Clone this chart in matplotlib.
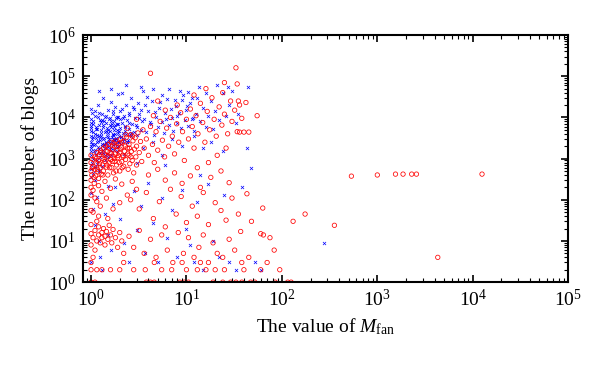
import matplotlib
matplotlib.use("Agg")
import matplotlib.pyplot as plt

# blue x markers
blue_x = [
    1.0, 1.0, 1.0, 1.0, 1.0, 1.02, 1.05, 1.05, 1.08, 1.1,
    1.1, 1.12, 1.15, 1.15, 1.18, 1.2, 1.2, 1.22, 1.25, 1.25,
    1.28, 1.3, 1.3, 1.33, 1.35, 1.35, 1.38, 1.4, 1.4, 1.42,
    1.45, 1.48, 1.5, 1.5, 1.52, 1.55, 1.58, 1.6, 1.6, 1.62,
    1.65, 1.7, 1.7, 1.72, 1.75, 1.78, 1.8, 1.8, 1.85, 1.9,
    1.9, 1.95, 2.0, 2.0, 2.05, 2.1, 2.1, 2.15, 2.2, 2.2,
    2.25, 2.3, 2.35, 2.4, 2.45, 2.5, 2.5, 2.6, 2.6, 2.7,
    2.8, 2.8, 2.9, 3.0, 3.0, 3.1, 3.2, 3.3, 3.4, 3.5,
    1.0, 1.0, 1.05, 1.1, 1.15, 1.2, 1.3, 1.0, 1.1, 1.4,
    1.0, 1.0, 1.0, 1.03, 1.07, 1.12, 1.17, 1.23, 1.27, 1.32,
    1.37, 1.43, 1.47, 1.53, 1.57, 1.63, 1.68, 1.73, 1.83, 1.88,
    1.93, 1.98, 2.03, 2.08, 2.13, 2.18, 2.28, 2.38, 2.48, 2.55,
    3.6, 3.8, 4.0, 4.2, 4.4, 4.6, 4.8, 5.0, 5.2, 5.5,
    5.8, 6.0, 6.3, 6.6, 7.0, 7.3, 7.7, 8.0, 8.4, 8.8,
    9.2, 9.6, 10, 10.5, 11, 11.5, 12, 12.5, 13, 14,
    15, 16, 17, 18, 19, 20, 22, 24, 26, 28,
    30, 33, 35, 21, 13.5, 6.5, 3.3, 2.3, 1.6, 1.2,
    4.5, 8.5, 16, 27, 1.9, 5.6, 10.5, 11.5, 3.9, 7.5,
    1.0, 1.05, 1.1, 1.2, 1.25, 1.0, 1.3, 1.15, 1.4, 1.5,
    1.6, 1.7, 1.8, 2.0, 2.2, 2.5, 2.8, 3.0, 3.3, 3.7,
    4.0, 4.5, 5.0, 5.5, 6.2, 7.0, 8.0, 9.0, 10, 11,
    12, 13, 15, 17, 19, 22, 25, 28, 33, 38,
    44, 52, 60, 43, 48, 24, 18, 275, 14, 6,
    3.5, 4.5, 5.5, 7, 9, 3.0, 2.2, 12, 15, 1.5,
    1.0, 1.0, 1.02, 1.04, 1.06, 1.09, 1.11, 1.14, 1.16, 1.19,
    1.21, 1.24, 1.26, 1.29, 1.31, 1.34, 1.36, 1.39, 1.41, 1.44,
    1.46, 1.49, 1.51, 1.54, 1.56, 1.59, 1.61, 1.64, 1.66, 1.69,
    1.71, 1.74, 1.76, 1.79, 1.81, 1.84, 1.86, 1.89, 1.91, 1.94,
    1.0, 1.01, 1.03, 1.06, 1.09, 1.13, 1.16, 1.19, 1.24, 1.28,
    1.33, 1.38, 1.44, 1.5, 1.56, 1.63, 1.7, 1.77, 1.86, 1.96,
    2.05, 2.15, 2.27, 2.4, 2.52, 2.65, 2.78, 2.95, 3.15, 3.35,
    3.7, 4.1, 4.7, 5.3, 6.1, 6.9, 7.9, 9.0, 10.2, 11.8,
]
blue_y = [
    1200, 2500, 4800, 9000, 16000, 800, 3300, 7000, 1500, 11000,
    2200, 5200, 900, 3800, 20000, 1700, 6500, 13000, 2800, 1100,
    4300, 8500, 2000, 30000, 1400, 5800, 3100, 10500, 1250, 2400,
    7200, 3600, 15000, 1900, 4900, 2700, 9500, 1600, 6000, 24000,
    3300, 2100, 12000, 5000, 8000, 2900, 4000, 18000, 6800, 2600,
    10000, 3500, 5500, 14000, 2300, 7500, 40000, 4200, 11000, 3000,
    6200, 20000, 3900, 8800, 2800, 13000, 5200, 3600, 30000, 7000,
    4500, 16000, 9500, 3800, 6000, 22000, 12000, 5000, 8000, 45000,
    700, 550, 450, 620, 750, 500, 650, 350, 300, 900,
    1800, 3500, 6300, 12500, 2100, 1300, 2700, 3300, 7800, 1600,
    2300, 4600, 1300, 3000, 6500, 1800, 4000, 2800, 3200, 1900,
    7000, 2500, 9000, 3400, 16000, 2700, 4800, 2500, 7500, 3900,
    9000, 4500, 14000, 6800, 25000, 3700, 10000, 5800, 17000, 7700,
    4200, 12500, 28000, 6500, 9800, 4800, 19000, 7200, 13000, 5500,
    35000, 8500, 15000, 6200, 22000, 9000, 4800, 12000, 30000, 8000,
    17000, 6000, 11000, 25000, 5200, 14000, 8500, 40000, 11000, 20000,
    45000, 7500, 12000, 60000, 55000, 50000, 55000, 60000, 50000, 45000,
    48000, 45000, 40000, 55000, 38000, 35000, 42000, 30000, 32000, 26000,
    150, 60, 25, 10, 4, 3, 2, 120, 45, 14,
    6, 80, 200, 35, 9, 3, 160, 18, 70, 5,
    250, 28, 3, 110, 12, 55, 4, 170, 20, 8,
    3, 90, 2, 240, 10, 4, 130, 3, 2, 200,
    54000, 3, 2, 1800, 580, 1500, 2600, 9, 400, 700,
    1800, 2500, 1200, 3000, 2000, 800, 1300, 3500, 1800, 220,
    2000, 5600, 3000, 1000, 8000, 4000, 1600, 6000, 2600, 10000,
    3600, 1400, 5000, 2200, 12000, 3000, 8000, 1800, 4400, 2600,
    5600, 1100, 3400, 9000, 2000, 4800, 1200, 7000, 2500, 14000,
    3800, 1600, 6000, 2300, 9500, 3000, 1500, 5000, 2000, 4200,
    1500, 7500, 2300, 4400, 14000, 3200, 5200, 1900, 8800, 3600,
    6600, 2100, 11000, 4100, 2400, 8200, 3000, 6400, 10500, 4700,
    3300, 9600, 5900, 2500, 11500, 4200, 18000, 6600, 9800, 15000,
    20000, 7600, 13500, 24000, 9200, 16000, 11000, 26000, 18500, 9800,
]

# red open circles
red_x = [
    1.0, 1.0, 1.0, 1.0, 1.02, 1.05, 1.05, 1.08, 1.1, 1.1,
    1.12, 1.15, 1.15, 1.18, 1.2, 1.2, 1.22, 1.25, 1.25, 1.28,
    1.3, 1.32, 1.35, 1.35, 1.38, 1.4, 1.42, 1.45, 1.48, 1.5,
    1.5, 1.52, 1.55, 1.58, 1.6, 1.62, 1.65, 1.68, 1.7, 1.72,
    1.75, 1.78, 1.8, 1.82, 1.85, 1.88, 1.9, 1.95, 2.0, 2.0,
    2.05, 2.1, 2.1, 2.15, 2.2, 2.2, 2.25, 2.3, 2.35, 2.4,
    2.45, 2.5, 2.5, 2.55, 2.6, 2.65, 2.7, 2.75, 2.8, 2.85,
    2.9, 2.95, 3.0, 3.0, 3.1, 3.2, 3.3, 3.4, 3.5, 3.6,
    1.0, 1.0, 1.05, 1.1, 1.2, 1.3, 1.4, 1.6, 1.8, 2.1,
    2.4, 2.7, 3.0, 1.15, 1.25, 1.45, 1.7, 2.0, 2.6, 1.05,
    3.8, 4.0, 4.2, 4.4, 4.6, 4.8, 5.0, 5.3, 5.6, 5.9,
    6.2, 6.5, 6.8, 7.1, 7.5, 7.9, 8.3, 8.7, 9.1, 9.5,
    10, 10.5, 11, 11.5, 12, 12.6, 13.2, 14, 14.8, 15.6,
    16.5, 17.5, 18.5, 19.5, 20.5, 22, 23.5, 25, 27, 29,
    30, 32, 34, 36, 38, 24, 26, 21, 17, 13,
    4.0, 5.0, 6.0, 7.5, 9.0, 11, 14, 18, 23, 28,
    3.2, 3.8, 4.5, 5.2, 6, 6.8, 7.8, 8.8, 10, 11.5,
    13, 15, 17, 20, 23, 26, 30, 35, 43, 63,
    1.0, 1.0, 1.0, 1.05, 1.1, 1.1, 1.15, 1.15, 1.2, 1.2,
    1.25, 1.3, 1.3, 1.35, 1.4, 1.4, 1.45, 1.5, 1.55, 1.6,
    1.65, 1.7, 1.8, 1.9, 2.0, 2.1, 2.2, 1.05, 1.2, 1.5,
    2.5, 2.8, 3.2, 3.6, 4.2, 4.8, 5.5, 6.3, 7.2, 8.2,
    9.3, 10.5, 12, 13.5, 15, 17, 19, 21, 24, 28,
    32, 38, 45, 60, 70, 83, 64, 37, 48, 1.0,
    1.0, 1.15, 1.3, 1.6, 2.0, 2.8, 3.7, 5.5, 7, 10,
    13, 16, 20, 25, 40, 60, 95, 1.0, 2.2, 4.6,
    1.0, 1.1, 3.8, 4.2, 4.6, 8.5, 9.5, 10.5, 19, 24,
    29, 33, 38, 47, 52, 85, 115, 125, 9, 14,
    131, 175, 355, 535, 1000, 1550, 1860, 2290, 2570, 12500,
    4300, 4.2, 33, 34, 42, 55, 36, 40, 45, 75,
    8, 12, 6, 5, 25, 35, 16, 3, 2.4, 4.5,
    1.03, 1.07, 1.13, 1.17, 1.23, 1.27, 1.33, 1.37, 1.43, 1.47,
    1.53, 1.57, 1.63, 1.67, 1.73, 1.77, 1.83, 1.87, 1.93, 1.97,
    2.02, 2.08, 2.12, 2.18, 2.28, 2.32, 2.42, 2.52, 2.62, 2.72,
]
red_y = [
    300, 500, 800, 1200, 400, 650, 950, 250, 550, 1100,
    380, 750, 1400, 480, 900, 330, 1250, 600, 1600, 420,
    1000, 700, 1800, 500, 1300, 850, 2000, 620, 1500, 1100,
    400, 2200, 800, 1400, 950, 2500, 600, 1700, 1150, 450,
    2000, 850, 1300, 2700, 700, 1600, 1050, 2300, 500, 1400,
    3000, 850, 1900, 1200, 650, 2600, 1500, 950, 3300, 1800,
    550, 1200, 2200, 750, 3800, 1500, 900, 2700, 450, 1700,
    3200, 1100, 2000, 700, 4200, 1400, 2600, 850, 5000, 1800,
    200, 130, 170, 110, 220, 160, 280, 190, 320, 240,
    130, 280, 180, 90, 70, 110, 60, 85, 100, 50,
    3000, 1200, 6000, 2200, 800, 4500, 1600, 8000, 2800, 1100,
    5500, 2000, 10000, 3500, 1300, 7000, 2500, 13000, 4500, 900,
    9000, 3000, 16000, 6000, 1800, 11000, 4000, 22000, 7500, 2500,
    14000, 5000, 30000, 9000, 3500, 18000, 6500, 12000, 4000, 25000,
    8000, 15000, 4500, 20000, 9500, 40000, 1800, 1200, 800, 600,
    400, 550, 300, 450, 250, 380, 200, 350, 500, 260,
    60, 150, 35, 90, 22, 180, 45, 120, 28, 70,
    40, 150, 25, 85, 55, 32, 110, 45, 140, 63,
    15, 8, 25, 12, 18, 6, 10, 30, 14, 22,
    9, 16, 12, 20, 8, 13, 17, 11, 24, 14,
    9, 19, 12, 7, 16, 10, 5, 4, 40, 35,
    13, 7, 18, 5, 11, 4, 14, 6, 3, 16,
    5, 12, 4, 7, 14, 3, 9, 5, 4, 11,
    6, 3, 4, 15, 3, 6, 14, 17, 30, 55,
    2, 2, 2, 2, 2, 2, 2, 2, 2, 2,
    2, 2, 2, 2, 2, 2, 2, 3, 3, 3,
    1, 1, 1, 1, 1, 1, 1, 1, 1, 1,
    1, 1, 1, 1, 1, 1, 1, 1, 3, 3,
    30, 45, 24, 375, 400, 420, 420, 420, 420, 420,
    4, 118000, 160000, 65000, 23000, 11000, 4400, 4400, 4400, 12,
    20000, 35000, 15000, 25000, 70000, 25000, 50000, 9000, 5500, 11000,
    600, 350, 1000, 550, 750, 1400, 400, 950, 1200, 700,
    1800, 600, 1300, 850, 2400, 1000, 500, 2000, 1200, 800,
    1700, 2500, 600, 1100, 2000, 3800, 1300, 1800, 1100, 3500,
]

plt.rcParams["font.family"] = "serif"
plt.rcParams["font.serif"] = ["Liberation Serif", "DejaVu Serif"]
plt.rcParams["mathtext.fontset"] = "custom"
plt.rcParams["mathtext.rm"] = "Liberation Serif"
plt.rcParams["mathtext.it"] = "Liberation Serif:italic"
plt.rcParams["mathtext.bf"] = "Liberation Serif:bold"

fig = plt.figure(figsize=(6, 3.65), dpi=100)
ax = fig.add_axes([0.138, 0.227, 0.809, 0.677])

ax.scatter(blue_x, blue_y, marker="x", s=5, c="#0000ff", linewidths=0.5)
ax.scatter(red_x, red_y, marker="o", s=10, facecolors="none", edgecolors="#ff0000", linewidths=0.55)

ax.set_xscale("log")
ax.set_yscale("log")
ax.set_xlim(0.82, 1e5)
ax.set_ylim(1, 1e6)

ax.set_xlabel(r"The value of $M_{\mathrm{fan}}$", fontsize=14, labelpad=4)
ax.set_ylabel("The number of blogs", fontsize=14, labelpad=6)

for s in ax.spines.values():
    s.set_linewidth(1.5)
ax.tick_params(which="both", direction="in", top=True, right=True, labelsize=14)
ax.tick_params(which="major", length=5, width=1.2, pad=5)
ax.tick_params(which="minor", length=3, width=0.8)

fig.savefig("out.png", dpi=100)
